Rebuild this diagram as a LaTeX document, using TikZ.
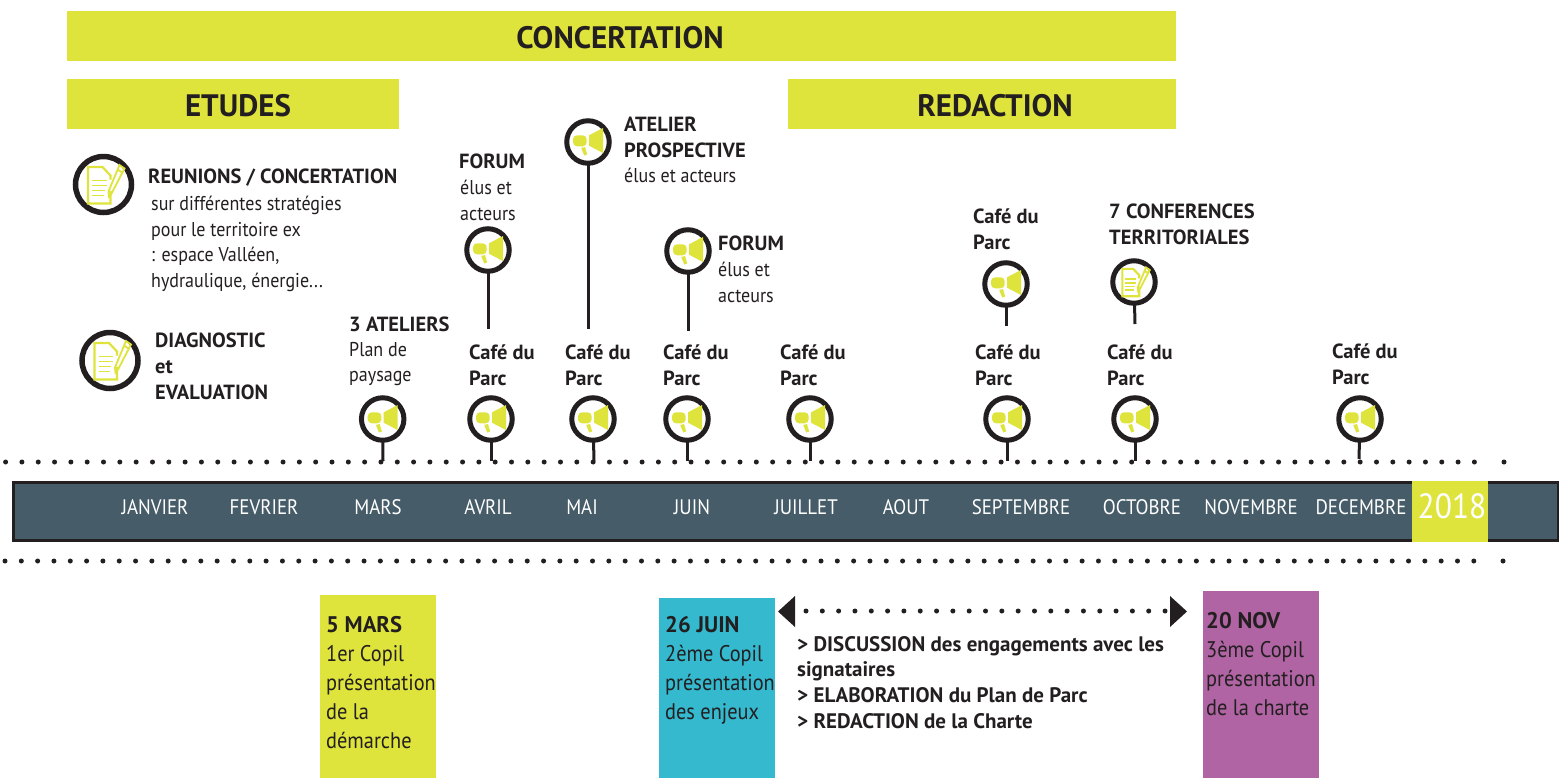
\documentclass[tikz,border=0pt]{standalone}
\usepackage{fontspec}
\setmainfont{PT Sans}[FakeStretch=0.9,BoldFeatures={FakeStretch=1}]
\definecolor{jaune}{RGB}{223,228,60}
\definecolor{ardoise}{RGB}{70,92,104}
\definecolor{sombre}{RGB}{35,31,32}
\definecolor{turquoise}{RGB}{53,185,206}
\definecolor{violet}{RGB}{176,100,163}
\tikzset{
  bandeau/.style={fill=jaune,inner sep=0pt},
  bandeautexte/.style={inner sep=0pt,text=sombre,font=\bfseries\fontsize{31}{31}\selectfont},
  anneau/.style={circle,draw=sombre,fill=white,line width=5pt,minimum size=42.5pt,inner sep=0pt,outer sep=0pt},
  grandanneau/.style={anneau,line width=5.5pt,minimum size=56pt},
  tige/.style={draw=sombre,line width=3pt},
  texte/.style={anchor=north west,align=left,inner sep=0pt,text=sombre,font=\fontsize{20}{25.6}\selectfont},
  titre/.style={texte,font=\bfseries\fontsize{20.5}{25.6}\selectfont},
  mois/.style={text=white,inner sep=0pt,font=\fontsize{21}{21}\selectfont},
  copil/.style={anchor=north west,inner sep=0pt,outer sep=0pt},
  copiltexte/.style={anchor=north west,align=left,inner sep=0pt,yshift=-7.5pt,text=sombre,font=\fontsize{22.6}{28.8}\selectfont},
  pointilles/.style={draw=sombre,line width=5pt,line cap=round,dash pattern=on 0pt off 16.32pt},
  point/.style={circle,fill=sombre,minimum size=5pt,inner sep=0pt},
  fleche/.style={fill=sombre,draw=none},
  megaphone/.pic={
    \fill[jaune,rounded corners=4pt] (-15,-6.7) -- (-1.3,-6.7) -- (-1.3,4.3) -- (-15,4.3) -- cycle;
    \fill[jaune] (1,-6.7) -- (15,-14) -- (15,11) -- (1,3.7) -- cycle;
    \fill[jaune] (-6.8,6) -- (-3,5) -- (-0.8,12.5) -- (-3.8,13.5) -- cycle;
  },
  carnet/.pic={
    \draw[jaune,line width=2.2pt] (7,6) -- (7,19) -- (-15.5,19) -- (-15.5,-17.5) -- (-1,-17.5) -- (7,-9) -- (7,-5);
    \draw[jaune,line width=1.8pt] (-11.5,-4) -- (3,-4) (-11.5,1) -- (3,1) (-11.5,6) -- (1,6) (-11.5,11) -- (0,11);
    \draw[jaune,line width=1.8pt] (16,-19.5) -- (21,-16) -- (8,9) -- (5.5,12) -- (5,7) -- cycle (14,-15) -- (18.5,-12);
  },
}
\begin{document}
\begin{tikzpicture}[x=1pt,y=-1pt]
\useasboundingbox (0,0) rectangle (1559,780);
% bandeaux du haut
\node[bandeau,minimum width=1109pt,minimum height=50pt] (concertation) at (621.5,36) {};
\node[bandeautexte] (concertationtxt) at (620,38) {CONCERTATION};
\node[bandeau,minimum width=332pt,minimum height=50pt] (etudes) at (233,104) {};
\node[bandeautexte] (etudestxt) at (238,106) {ETUDES};
\node[bandeau,minimum width=388pt,minimum height=50pt] (redaction) at (982,104) {};
\node[bandeautexte] (redactiontxt) at (995,106) {REDACTION};
%
% frise
\coordinate (hautg) at (5.6,462);
\coordinate (hautd) at (1482,462);
\draw[pointilles] (hautg) -- (hautd);
\node[point] (hautfin) at (1504,462) {};
\coordinate (basg) at (5,561);
\coordinate (basd) at (1481,561);
\draw[pointilles] (basg) -- (basd);
\node[point] (basfin) at (1503,561) {};
\node[fill=ardoise,draw=sombre,line width=3pt,minimum width=1545pt,minimum height=58pt,inner sep=0pt] (frise) at (785.5,511) {};
\node[fill=jaune,minimum width=76pt,minimum height=61pt,inner sep=0pt] (annee) at (1450,511.5) {};
\node[text=white,inner sep=0pt,font=\fontsize{35}{35}\selectfont] (anneetxt) at (1452,506) {2018};
%
\node[mois] (janvier) at (155,507) {JANVIER};
\node[mois] (fevrier) at (264,507) {FEVRIER};
\node[mois] (mars) at (378,507) {MARS};
\node[mois] (avril) at (488,507) {AVRIL};
\node[mois] (mai) at (582,507) {MAI};
\node[mois] (juin) at (692,507) {JUIN};
\node[mois] (juillet) at (806,507) {JUILLET};
\node[mois] (aout) at (906,507) {AOUT};
\node[mois] (septembre) at (1021,507) {SEPTEMBRE};
\node[mois] (octobre) at (1142,507) {OCTOBRE};
\node[mois] (novembre) at (1251,507) {NOVEMBRE};
\node[mois] (decembre) at (1361,507) {DECEMBRE};
%
% colonne de gauche
\node[grandanneau] (reunions) at (103.5,184.5) {};
\pic at (reunions) {carnet};
\node[titre] (reunionstxt) at (148,169) {REUNIONS / CONCERTATION};
\node[texte] (strategies) at (151,196) {sur différentes stratégies\\pour le territoire ex\\: espace Valléen,\\hydraulique, énergie...};
\node[grandanneau] (diagnostic) at (110,360.5) {};
\pic at (diagnostic) {carnet};
\node[titre] (diagnostictxt) at (155,333) {DIAGNOSTIC\\et\\EVALUATION};
%
% epingles sur la frise
\node[anneau] (pinmars) at (382.7,419) {};
\pic at (pinmars) {megaphone};
\coordinate (finmars) at (383,461);
\draw[tige] (pinmars) -- (finmars);
\node[titre] (ateliers) at (349,317) {3 ATELIERS};
\node[texte] (paysage) at (349,342) {Plan de\\paysage};
%
\node[anneau] (pinavril) at (491,419) {};
\pic at (pinavril) {megaphone};
\coordinate (finavril) at (491,461);
\draw[tige] (pinavril) -- (finavril);
\node[titre] (cafeavril) at (469,345) {Café du\\Parc};
%
\node[anneau] (pinmai) at (593,419) {};
\pic at (pinmai) {megaphone};
\coordinate (finmai) at (594,461);
\draw[tige] (pinmai) -- (finmai);
\node[titre] (cafemai) at (565,345) {Café du\\Parc};
%
\node[anneau] (pinjuin) at (687,419) {};
\pic at (pinjuin) {megaphone};
\coordinate (finjuin) at (687,461);
\draw[tige] (pinjuin) -- (finjuin);
\node[titre] (cafejuin) at (663,345) {Café du\\Parc};
%
\node[anneau] (pinjuillet) at (810,419) {};
\pic at (pinjuillet) {megaphone};
\coordinate (finjuillet) at (810,461);
\draw[tige] (pinjuillet) -- (finjuillet);
\node[titre] (cafejuillet) at (780,345) {Café du\\Parc};
%
\node[anneau] (pinsept) at (1007,419) {};
\pic at (pinsept) {megaphone};
\coordinate (finsept) at (1007,461);
\draw[tige] (pinsept) -- (finsept);
\node[titre] (cafesept) at (975,345) {Café du\\Parc};
%
\node[anneau] (pinoct) at (1135,419) {};
\pic at (pinoct) {megaphone};
\coordinate (finoct) at (1135,461);
\draw[tige] (pinoct) -- (finoct);
\node[titre] (cafeoct) at (1107,345) {Café du\\Parc};
%
\node[anneau] (pindec) at (1360,419) {};
\pic at (pindec) {megaphone};
\coordinate (findec) at (1359,459);
\draw[tige] (pindec) -- (findec);
\node[titre] (cafedec) at (1332,344) {Café du\\Parc};
%
% epingles hautes
\node[anneau] (pinforuma) at (488,250) {};
\pic at (pinforuma) {megaphone};
\coordinate (finforuma) at (488,329);
\draw[tige] (pinforuma) -- (finforuma);
\node[titre] (foruma) at (459,154) {FORUM};
\node[texte] (forumatxt) at (460,180) {élus et\\acteurs};
%
\node[anneau] (pinatelier) at (588,142) {};
\pic at (pinatelier) {megaphone};
\coordinate (finatelier) at (588,329);
\draw[tige] (pinatelier) -- (finatelier);
\node[titre] (atelier) at (624,117) {ATELIER\\PROSPECTIVE};
\node[texte] (ateliertxt) at (624,168) {élus et acteurs};
%
\node[anneau] (pinforumb) at (688,251) {};
\pic at (pinforumb) {megaphone};
\coordinate (finforumb) at (688,331);
\draw[tige] (pinforumb) -- (finforumb);
\node[titre] (forumb) at (718,236) {FORUM};
\node[texte] (forumbtxt) at (718,262) {élus et\\acteurs};
%
\node[anneau] (pincafe) at (1006,284) {};
\pic at (pincafe) {megaphone};
\coordinate (fincafe) at (1006,326);
\draw[tige] (pincafe) -- (fincafe);
\node[titre] (cafehaut) at (973,209) {Café du\\Parc};
%
\node[anneau] (pinconf) at (1134,282) {};
\pic[scale=0.75] at (pinconf) {carnet};
\coordinate (finconf) at (1135,324);
\draw[tige] (pinconf) -- (finconf);
\node[titre] (conferences) at (1109,204) {7 CONFERENCES\\TERRITORIALES};
%
% copils
\node[copil,fill=jaune,minimum width=116pt,minimum height=183pt] (copila) at (320,595) {};
\node[copiltexte] (copilatxt) at (326,609) {\textbf{5 MARS}\\1er Copil\\présentation\\de la\\démarche};
\node[copil,fill=turquoise,minimum width=116pt,minimum height=180pt] (copilb) at (659,598) {};
\node[copiltexte] (copilbtxt) at (665,609) {\textbf{26 JUIN}\\2ème Copil\\présentation\\des enjeux};
\node[copil,fill=violet,minimum width=116pt,minimum height=187pt] (copilc) at (1203,591) {};
\node[copiltexte] (copilctxt) at (1206,605) {\textbf{20 NOV}\\3ème Copil\\présentation\\de la charte};
%
% entre les copils
\coordinate (flecheg) at (806,611);
\coordinate (fleched) at (1166,611);
\draw[pointilles] (flecheg) -- (fleched);
\fill[fleche] (778,611.5) -- (795,596) -- (795,627) -- cycle;
\fill[fleche] (1187,611.5) -- (1170,596) -- (1170,627) -- cycle;
\node[titre,font=\bfseries\fontsize{21}{25.6}\selectfont] (discussion) at (797,636) {> DISCUSSION des engagements avec les\\signataires\\> ELABORATION du Plan de Parc\\> REDACTION de la Charte};
\end{tikzpicture}
\end{document}
